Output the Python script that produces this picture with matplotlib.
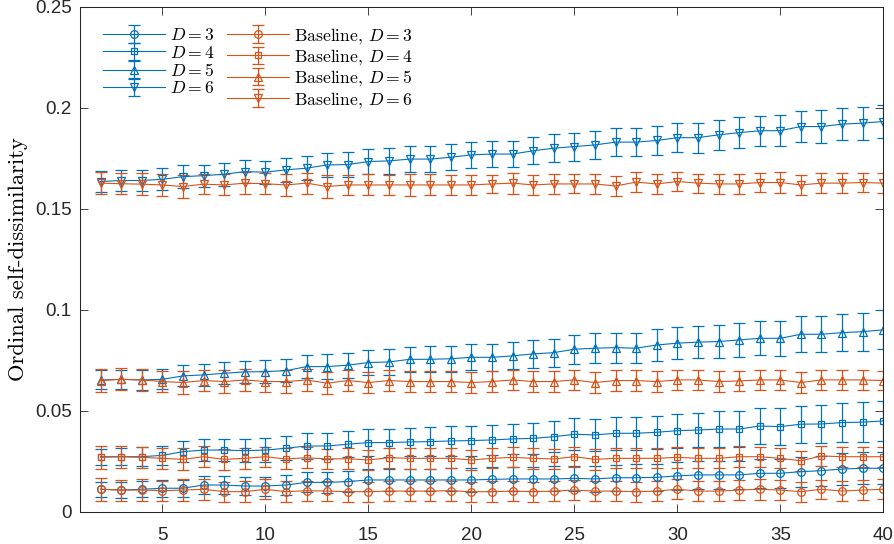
import numpy as np
import matplotlib
matplotlib.use("Agg")
import matplotlib.pyplot as plt
from matplotlib.ticker import FuncFormatter

plt.rcParams["mathtext.fontset"] = "cm"
plt.rcParams["axes.unicode_minus"] = False

x = list(range(2, 41))

d3 = [0.0111, 0.0107, 0.0111, 0.0116, 0.0116, 0.0132, 0.0132, 0.0127, 0.0127, 0.0132,
      0.0145, 0.0145, 0.0149, 0.0157, 0.0157, 0.0157, 0.0157, 0.0157, 0.0157, 0.0160,
      0.0162, 0.0162, 0.0162, 0.0165, 0.0162, 0.0168, 0.0168, 0.0170, 0.0177, 0.0182,
      0.0182, 0.0182, 0.0190, 0.0190, 0.0198, 0.0203, 0.0211, 0.0215, 0.0215]
d4 = [0.0272, 0.0272, 0.0272, 0.0279, 0.0297, 0.0305, 0.0305, 0.0302, 0.0305, 0.0314,
      0.0325, 0.0325, 0.0334, 0.0342, 0.0342, 0.0345, 0.0347, 0.0350, 0.0352, 0.0355,
      0.0360, 0.0363, 0.0371, 0.0383, 0.0380, 0.0388, 0.0388, 0.0393, 0.0401, 0.0404,
      0.0409, 0.0409, 0.0424, 0.0421, 0.0433, 0.0434, 0.0441, 0.0443, 0.0449]
d5 = [0.0652, 0.0655, 0.0652, 0.0655, 0.0672, 0.0677, 0.0685, 0.0692, 0.0693, 0.0698,
      0.0718, 0.0718, 0.0725, 0.0738, 0.0741, 0.0754, 0.0754, 0.0757, 0.0764, 0.0764,
      0.0771, 0.0781, 0.0787, 0.0804, 0.0809, 0.0812, 0.0809, 0.0825, 0.0834, 0.0839,
      0.0842, 0.0850, 0.0858, 0.0858, 0.0878, 0.0878, 0.0886, 0.0891, 0.0900]
d6 = [0.1634, 0.1639, 0.1639, 0.1645, 0.1658, 0.1663, 0.1670, 0.1683, 0.1680, 0.1692,
      0.1700, 0.1716, 0.1718, 0.1733, 0.1736, 0.1745, 0.1745, 0.1754, 0.1766, 0.1770,
      0.1770, 0.1786, 0.1799, 0.1807, 0.1815, 0.1829, 0.1829, 0.1837, 0.1851, 0.1851,
      0.1865, 0.1876, 0.1885, 0.1886, 0.1906, 0.1906, 0.1918, 0.1923, 0.1931]

b3 = [0.0111, 0.0107, 0.0107, 0.0104, 0.0107, 0.0111, 0.0099, 0.0099, 0.0111, 0.0099,
      0.0104, 0.0102, 0.0099, 0.0099, 0.0102, 0.0102, 0.0102, 0.0104, 0.0099, 0.0099,
      0.0102, 0.0099, 0.0102, 0.0107, 0.0102, 0.0102, 0.0099, 0.0102, 0.0111, 0.0102,
      0.0102, 0.0107, 0.0111, 0.0107, 0.0099, 0.0111, 0.0102, 0.0107, 0.0111]
b4 = [0.0269, 0.0272, 0.0269, 0.0264, 0.0259, 0.0272, 0.0259, 0.0264, 0.0272, 0.0261,
      0.0267, 0.0261, 0.0262, 0.0256, 0.0267, 0.0264, 0.0264, 0.0264, 0.0256, 0.0264,
      0.0269, 0.0264, 0.0261, 0.0272, 0.0259, 0.0264, 0.0264, 0.0264, 0.0269, 0.0264,
      0.0264, 0.0272, 0.0272, 0.0264, 0.0252, 0.0276, 0.0272, 0.0272, 0.0272]
b5 = [0.0649, 0.0655, 0.0652, 0.0644, 0.0639, 0.0649, 0.0644, 0.0652, 0.0644, 0.0644,
      0.0652, 0.0636, 0.0649, 0.0639, 0.0649, 0.0644, 0.0644, 0.0644, 0.0639, 0.0644,
      0.0652, 0.0644, 0.0644, 0.0652, 0.0639, 0.0649, 0.0649, 0.0644, 0.0652, 0.0652,
      0.0644, 0.0647, 0.0652, 0.0652, 0.0639, 0.0652, 0.0652, 0.0652, 0.0649]
b6 = [0.1626, 0.1623, 0.1621, 0.1617, 0.1609, 0.1621, 0.1617, 0.1626, 0.1623, 0.1617,
      0.1626, 0.1609, 0.1617, 0.1617, 0.1617, 0.1617, 0.1617, 0.1617, 0.1617, 0.1622,
      0.1626, 0.1617, 0.1622, 0.1622, 0.1622, 0.1612, 0.1631, 0.1622, 0.1634, 0.1626,
      0.1622, 0.1622, 0.1629, 0.1629, 0.1617, 0.1626, 0.1626, 0.1629, 0.1626]

# error bar half-widths
e3 = [0.0037, 0.0038, 0.0040, 0.0041, 0.0042, 0.0044, 0.0045, 0.0046, 0.0047, 0.0048,
      0.0050, 0.0051, 0.0052, 0.0053, 0.0054, 0.0055, 0.0056, 0.0057, 0.0058, 0.0059,
      0.0060, 0.0061, 0.0062, 0.0063, 0.0064, 0.0065, 0.0066, 0.0067, 0.0068, 0.0069,
      0.0070, 0.0071, 0.0072, 0.0073, 0.0074, 0.0075, 0.0077, 0.0078, 0.0080]
e4 = [0.0040, 0.0043, 0.0046, 0.0048, 0.0052, 0.0054, 0.0056, 0.0057, 0.0058, 0.0060,
      0.0062, 0.0063, 0.0065, 0.0068, 0.0069, 0.0070, 0.0071, 0.0072, 0.0074, 0.0075,
      0.0076, 0.0077, 0.0078, 0.0079, 0.0080, 0.0081, 0.0082, 0.0083, 0.0084, 0.0086,
      0.0087, 0.0088, 0.0089, 0.0091, 0.0092, 0.0094, 0.0096, 0.0098, 0.0100]
e5 = [0.0047, 0.0048, 0.0050, 0.0050, 0.0052, 0.0053, 0.0055, 0.0056, 0.0057, 0.0058,
      0.0058, 0.0060, 0.0061, 0.0062, 0.0063, 0.0063, 0.0064, 0.0065, 0.0065, 0.0066,
      0.0067, 0.0068, 0.0070, 0.0071, 0.0073, 0.0074, 0.0075, 0.0077, 0.0078, 0.0080,
      0.0081, 0.0083, 0.0084, 0.0086, 0.0088, 0.0090, 0.0092, 0.0094, 0.0097]
e6 = [0.0050, 0.0052, 0.0053, 0.0055, 0.0056, 0.0055, 0.0057, 0.0058, 0.0058, 0.0060,
      0.0060, 0.0061, 0.0062, 0.0063, 0.0064, 0.0063, 0.0065, 0.0065, 0.0066, 0.0064,
      0.0066, 0.0066, 0.0068, 0.0069, 0.0070, 0.0071, 0.0070, 0.0072, 0.0073, 0.0074,
      0.0075, 0.0076, 0.0075, 0.0077, 0.0078, 0.0080, 0.0080, 0.0082, 0.0084]

eb3 = [0.0058, 0.0052, 0.0054, 0.0050, 0.0053, 0.0051, 0.0049, 0.0052, 0.0050, 0.0051,
       0.0050, 0.0049, 0.0051, 0.0050, 0.0049, 0.0051, 0.0050, 0.0049, 0.0050, 0.0051,
       0.0049, 0.0050, 0.0051, 0.0049, 0.0050, 0.0048, 0.0050, 0.0051, 0.0049, 0.0050,
       0.0049, 0.0050, 0.0051, 0.0049, 0.0050, 0.0048, 0.0050, 0.0049, 0.0050]
eb4 = [0.0058, 0.0054, 0.0053, 0.0052, 0.0054, 0.0051, 0.0052, 0.0053, 0.0050, 0.0052,
       0.0051, 0.0050, 0.0052, 0.0051, 0.0050, 0.0052, 0.0051, 0.0050, 0.0051, 0.0050,
       0.0049, 0.0051, 0.0050, 0.0049, 0.0051, 0.0050, 0.0049, 0.0050, 0.0051, 0.0049,
       0.0050, 0.0051, 0.0049, 0.0050, 0.0049, 0.0051, 0.0050, 0.0049, 0.0050]
eb5 = [0.0056, 0.0055, 0.0056, 0.0054, 0.0055, 0.0053, 0.0055, 0.0054, 0.0053, 0.0055,
       0.0054, 0.0053, 0.0052, 0.0054, 0.0053, 0.0052, 0.0053, 0.0052, 0.0054, 0.0052,
       0.0051, 0.0052, 0.0051, 0.0050, 0.0052, 0.0051, 0.0050, 0.0051, 0.0050, 0.0049,
       0.0050, 0.0049, 0.0050, 0.0049, 0.0050, 0.0048, 0.0049, 0.0048, 0.0049]
eb6 = [0.0056, 0.0052, 0.0054, 0.0053, 0.0055, 0.0050, 0.0052, 0.0054, 0.0051, 0.0053,
       0.0052, 0.0055, 0.0050, 0.0052, 0.0051, 0.0053, 0.0052, 0.0051, 0.0050, 0.0046,
       0.0052, 0.0050, 0.0048, 0.0047, 0.0050, 0.0051, 0.0049, 0.0050, 0.0048, 0.0047,
       0.0050, 0.0049, 0.0048, 0.0050, 0.0051, 0.0049, 0.0048, 0.0049, 0.0050]

ours = [(d3, e3, "o", 5.5, "$D = 3$"), (d4, e4, "s", 4.5, "$D = 4$"),
        (d5, e5, "^", 5.5, "$D = 5$"), (d6, e6, "v", 5.5, "$D = 6$")]
base = [(b3, eb3, "o", 5.5, "Baseline, $D = 3$"), (b4, eb4, "s", 4.5, "Baseline, $D = 4$"),
        (b5, eb5, "^", 5.5, "Baseline, $D = 5$"), (b6, eb6, "v", 5.5, "Baseline, $D = 6$")]

BLUE = "#0072BD"
ORANGE = "#D95319"
AX = "#262626"

fig = plt.figure(figsize=(8.94, 5.44), dpi=100)
ax = fig.add_axes([0.0895, 0.0594, 0.8985, 0.9286])

for group, col in [(ours, BLUE), (base, ORANGE)]:
    for vals, err, mk, ms, lab in group:
        ax.errorbar(x, vals, yerr=err, color=col, marker=mk, markersize=ms,
                    markerfacecolor="none", markeredgewidth=0.9, linewidth=0.8,
                    elinewidth=0.9, capsize=4.3, capthick=0.9, label=lab)

ax.set_xlim(1, 40)
ax.set_ylim(0, 0.25)
ax.set_xticks([5, 10, 15, 20, 25, 30, 35, 40])
ax.set_yticks([0, 0.05, 0.1, 0.15, 0.2, 0.25])
ax.yaxis.set_major_formatter(FuncFormatter(lambda v, p: f"{v:g}"))

ax.tick_params(direction="in", length=6, width=0.6, colors=AX,
               labelsize=13.5, top=True, right=True)
ax.tick_params(axis="x", pad=11)
ax.tick_params(axis="y", pad=6)
for lbl in ax.get_xticklabels() + ax.get_yticklabels():
    lbl.set_fontfamily("Liberation Sans")
for sp in ax.spines.values():
    sp.set_color(AX)
    sp.set_linewidth(0.75)

ax.set_ylabel("Ordinal self-dissimilarity", fontfamily="cmr10", fontsize=16.3,
              color="black", labelpad=5)

ax.legend(ncol=2, loc="upper left", frameon=False,
          prop={"family": "cmr10", "size": 12.7},
          handlelength=3.5, handletextpad=0.3, columnspacing=0.7,
          labelspacing=0.08, borderpad=0, borderaxespad=0,
          bbox_to_anchor=(0.0286, 0.962))

fig.savefig("out.png", dpi=100)
